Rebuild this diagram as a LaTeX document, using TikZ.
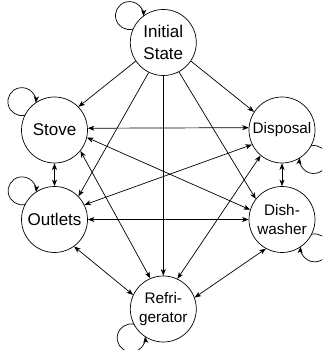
\documentclass[tikz,border=0pt]{standalone}
\usepackage{fontspec}
\setmainfont{Liberation Sans}
\usetikzlibrary{arrows.meta}

% self-transition: a small circular arc outside the state,
% #1 state, #2 direction of the loop, #3 = 1 (clockwise) or -1
\newcommand\drawselfloop[3]{%
  \begin{scope}[shift={(#1.center)}, rotate=#2]
    \draw[edge] ({(#3)*14.5}:33) arc[start angle={(#3)*143.8}, end angle={-1*(#3)*143.8}, radius=14];
  \end{scope}}

\begin{document}
\begin{tikzpicture}[x=1pt, y=1pt,
  state/.style={circle, draw, line width=0.7pt, minimum size=66pt, inner sep=0pt, align=center},
  bigtext/.style={font=\fontsize{17}{21.5}\selectfont},
  smalltext/.style={font=\fontsize{15.3}{18.8}\selectfont},
  tip/.tip={Stealth[length=6.5pt, width=5pt, inset=1.8pt]},
  edge/.style={line width=0.7pt, -tip},
  twoway/.style={line width=0.7pt, tip-tip}]
\useasboundingbox (0,0) rectangle (322,350);
\clip (0,0) rectangle (322,350);

% states
\node[state, bigtext]   (init)   at (163.3,307.5) {Initial\\State};
\node[state, bigtext]   (stove)  at (54.5,220)    {Stove};
\node[state, smalltext] (disp)   at (282,220)     {Disposal};
\node[state, bigtext]   (outl)   at (54.5,130.5)  {Outlets};
\node[state, smalltext] (dish)   at (282,130.5)   {Dish-\\washer};
\node[state, smalltext] (fridge) at (163.3,41)    {Refri-\\gerator};

% transitions out of the initial state
\draw[edge] (init.214) -- (stove.44);
\draw[edge] (init.244) -- (outl.44);
\draw[edge] (init.270) -- (fridge.90);
\draw[edge] (init.298) -- (dish.142);
\draw[edge] (init.326) -- (disp.147);

% transitions between rooms
\draw[twoway] (stove.3.5) -- (disp.176.5);
\draw[twoway] (stove.270) -- (outl.90);
\draw[twoway] (disp.270) -- (dish.90);
\draw[twoway] (outl.0) -- (dish.180);
\draw[twoway] (stove.-13) -- (dish.163.5);
\draw[twoway] (outl.26.3) -- (disp.206.3);
\draw[twoway] (stove.-39) -- (fridge.113);
\draw[twoway] (disp.230) -- (fridge.65.7);
\draw[twoway] (outl.-54.6) -- (fridge.155);
\draw[twoway] (dish.241) -- (fridge.20.6);

% self-transitions
\drawselfloop{init}{141.5}{1}
\drawselfloop{stove}{139}{1}
\drawselfloop{outl}{138.5}{1}
\drawselfloop{disp}{-43}{1}
\drawselfloop{dish}{-41}{1}
\drawselfloop{fridge}{222}{-1}
\end{tikzpicture}
\end{document}
